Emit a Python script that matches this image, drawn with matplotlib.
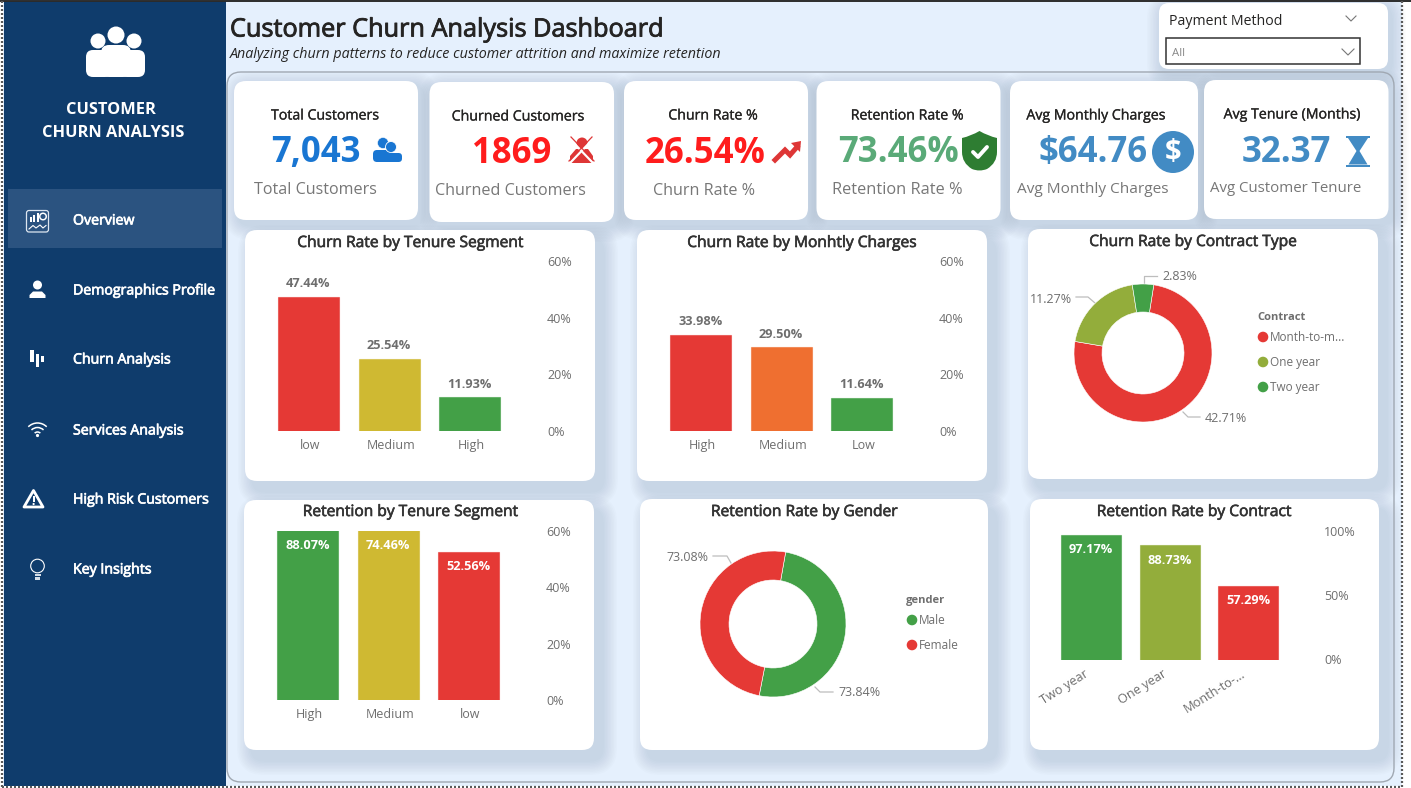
import numpy as np
import matplotlib
matplotlib.use("Agg")
from matplotlib import pyplot as plt
from matplotlib import patheffects as pe
from matplotlib.transforms import ScaledTranslation
from matplotlib.patches import FancyBboxPatch, Circle, Rectangle, Polygon, PathPatch, Arc, Wedge
from matplotlib.path import Path

plt.rcParams['font.family'] = ['Open Sans', 'DejaVu Sans']

W, H = 1411, 788

# data
nav_items = ["Overview", "Demographics Profile", "Churn Analysis", "Services Analysis", "High Risk Customers", "Key Insights"]

kpi_titles = ["Total Customers", "Churned Customers", "Churn Rate %", "Retention Rate %", "Avg Monthly Charges", "Avg Tenure (Months)"]
kpi_values = ["7,043", "1869", "26.54%", "73.46%", "$64.76", "32.37"]
kpi_subs = ["Total Customers", "Churned Customers", "Churn Rate %", "Retention Rate %", "Avg Monthly Charges", "Avg Customer Tenure"]

tenure_cats = ["low", "Medium", "High"]
tenure_churn = [47.44, 25.54, 11.93]

charge_cats = ["High", "Medium", "Low"]
charge_churn = [33.98, 29.50, 11.64]

contract_cats = ["Month-to-m...", "One year", "Two year"]
contract_churn = [42.71, 11.27, 2.83]

ret_tenure_cats = ["High", "Medium", "low"]
ret_tenure = [88.07, 74.46, 52.56]

gender_cats = ["Male", "Female"]
gender_ret = [73.84, 73.08]

ret_contract_cats = ["Two year", "One year", "Month-to-..."]
ret_contract = [97.17, 88.73, 57.29]

# colours
NAVY = "#0F3C6C"
BG = "#E5F0FD"
RED = "#E53935"
YEL = "#CFB932"
GRN = "#43A047"
ORG = "#EF6F30"
OLV = "#93AD3B"
BLUE = "#428BC4"
GREY = "#6E6E6E"
DARK = "#252423"

fig = plt.figure(figsize=(W / 100, H / 100), dpi=100, facecolor="white")
bg = fig.add_axes([0, 0, 1, 1])
bg.set_xlim(0, W)
bg.set_ylim(H, 0)
bg.axis("off")


def rrect(x0, y0, x1, y1, r, **kw):
    p = FancyBboxPatch((x0, y0), x1 - x0, y1 - y0, boxstyle="round,pad=0,rounding_size=%s" % r, **kw)
    bg.add_patch(p)
    return p


def card(x0, y0, x1, y1, r=12, dx=6, dy=8):
    # soft shadow built from stacked translucent boxes
    for i in range(10, 0, -1):
        g = i * 1.5
        rrect(x0 + dx - g, y0 + dy - g, x1 + dx + g, y1 + dy + g, r + g, fc="#66788F", ec="none", alpha=0.021, zorder=1)
    rrect(x0, y0, x1, y1, r, fc="white", ec="none", zorder=2)


def txt(x, y, s, size, color=DARK, ha="left", va="center", weight="normal", stroke=0, **kw):
    t = bg.text(x, y + 2, s, fontsize=size, color=color, ha=ha, va=va, fontweight=weight, zorder=6, **kw)
    if stroke:
        # fake a semibold weight, the regular face is closer in width
        t.set_path_effects([pe.withStroke(linewidth=stroke, foreground=color)])
    return t


def px_axes(x0, y0, x1, y1):
    ax = fig.add_axes([x0 / W, 1 - y1 / H, (x1 - x0) / W, (y1 - y0) / H])
    ax.patch.set_alpha(0)
    ax.set_zorder(5)
    return ax


def bar_chart(cats, vals, cols, ymax, ticks, first, step, top, base, right, inside=False, rot=0, bw=61):
    left = first - 40
    ax = px_axes(left, top, right, base)
    xs = np.arange(len(cats))
    ax.bar(xs, vals, width=bw / step, color=cols, edgecolor=[c + "99" for c in cols], linewidth=0.8)
    ax.set_xlim((left - first) / step, (right - first) / step)
    ax.set_ylim(0, ymax)
    for s in ax.spines.values():
        s.set_visible(False)
    ax.yaxis.tick_right()
    ax.set_yticks(ticks)
    ax.set_yticklabels(["%d%%" % t for t in ticks], fontsize=9, color=GREY)
    ax.tick_params(axis="y", length=0, pad=0)
    ax.set_xticks(xs)
    if rot:
        ax.set_xticklabels(cats, fontsize=9.2, color=GREY, rotation=rot, ha="right", rotation_mode="anchor")
        shift = -7
    else:
        ax.set_xticklabels(cats, fontsize=9, color=GREY)
        shift = 2
    ax.tick_params(axis="x", length=0, pad=5.6)
    for lab in ax.get_xticklabels():
        lab.set_transform(lab.get_transform() + ScaledTranslation(shift / 100, 0, fig.dpi_scale_trans))
    for x, v in zip(xs, vals):
        y = min(v, ymax)
        if inside:
            ax.annotate("%.2f%%" % v, (x, y), xytext=(0, -10.5), textcoords="offset points", ha="center", va="center",
                        fontsize=9.2, color="white", fontweight="bold", annotation_clip=False)
        else:
            ax.annotate("%.2f%%" % v, (x, y), xytext=(0, 9.5), textcoords="offset points", ha="center", va="center",
                        fontsize=9.2, color=GREY, fontweight="bold", annotation_clip=False)
    return ax


def donut(vals, cols, cx, cy, r_out, r_in, start):
    ax = px_axes(cx - r_out, cy - r_out, cx + r_out, cy + r_out)
    ax.pie(vals, colors=cols, startangle=start, counterclock=False, radius=1,
           wedgeprops=dict(width=1 - r_in / r_out, edgecolor="white", linewidth=0.4))
    ax.set_xlim(-1, 1)
    ax.set_ylim(-1, 1)
    return ax


def leader(pts):
    xs, ys = zip(*pts)
    bg.plot(xs, ys, color="#BDBDBD", lw=0.9, zorder=6)


def legend(title, tx, ty, cats, cols, cx, ys, lx):
    txt(tx, ty, title, 8, color=GREY, weight="bold")
    for c, col, y in zip(cats, cols, ys):
        bg.add_patch(Circle((cx, y), 5.3, fc=col, ec="none", zorder=6))
        txt(lx, y - 1.5, c, 8.5, color=GREY)


# page
bg.add_patch(Rectangle((3, 1), 1399, 785, fc=BG, ec="none", zorder=0))
bg.add_patch(Rectangle((4, 1), 222, 785, fc=NAVY, ec="none", zorder=1))
bg.plot([0, W], [0.5, 0.5], color="#2B2B2B", lw=1.4, zorder=9)
for xs, ys in [([2, 2], [1, 787]), ([1402, 1402], [1, 787]), ([2, 1402], [786.5, 786.5])]:
    bg.plot(xs, ys, color="#5A5A5A", lw=1.6, ls=(0, (0.9, 0.9)), zorder=9)

# sidebar
bg.add_patch(Rectangle((8, 189), 214, 59, fc="#2B5380", ec="none", zorder=2))
for c, r in [((98, 41), 7.5), ((134, 41), 7.5), ((116, 35), 8.5)]:
    bg.add_patch(Circle(c, r, fc="white", ec="none", zorder=3))
rrect(86, 50, 112, 77, 7, fc="white", ec="none", zorder=3)
rrect(120, 50, 145, 77, 7, fc="white", ec="none", zorder=3)
rrect(101, 45, 131, 77, 8, fc="white", ec="none", zorder=3)
txt(111, 108, "CUSTOMER", 11.8, color="white", ha="center", weight="bold")
txt(113, 131, "CHURN ANALYSIS", 11.8, color="white", ha="center", weight="bold")

nav_ys = [220, 290, 359, 430, 499, 569]
for name, y in zip(nav_items, nav_ys):
    txt(73, y - 1, name, 10.2, color="white", stroke=0.5)

# nav icons
rrect(26.5, 210.5, 48.5, 232, 2.5, fc="none", ec="#DDE6F0", lw=0.9, zorder=3)
for x, h in [(29.5, 5), (33, 7), (36.5, 9)]:
    bg.add_patch(Rectangle((x, 221.5 - h), 2.4, h, fc="white", ec="none", zorder=3))
bg.add_patch(Wedge((43, 216.5), 4, 0, 360, width=1.5, fc="white", ec="none", zorder=3))
bg.plot([29, 33, 36, 40, 43, 46], [229, 225.5, 228, 225, 228, 225.5], color="white", lw=0.8, zorder=3)
bg.add_patch(Circle((37.5, 285), 4.5, fc="white", ec="none", zorder=3))
bg.add_patch(Polygon([(29.5, 298), (29.5, 295), (33, 291.5), (42, 291.5), (45.5, 295), (45.5, 298)], fc="white", ec="none", zorder=3))
for x, y0, y1 in [(32, 350, 362), (37.5, 354, 367), (42.5, 356, 362)]:
    bg.add_patch(Rectangle((x - 1.6, y0), 3.2, y1 - y0, fc="white", ec="none", zorder=3))
for d in [4, 8.5, 13]:
    bg.add_patch(Arc((37.5, 436), d * 2, d * 2, theta1=225, theta2=315, ec="white", lw=1.1, zorder=3))
bg.add_patch(Circle((37.5, 435.5), 1.6, fc="white", ec="none", zorder=3))
bg.add_patch(Polygon([(33.5, 490.5), (43, 507), (24, 507)], closed=True, fc="none", ec="white", lw=2, joinstyle="round", zorder=3))
bg.add_patch(Rectangle((32.7, 495.5), 1.8, 6.5, fc="white", ec="none", zorder=3))
bg.add_patch(Circle((33.6, 504), 1.1, fc="white", ec="none", zorder=3))
bg.add_patch(Circle((37.5, 566), 6.8, fc="none", ec="white", lw=0.8, zorder=3))
bg.add_patch(Rectangle((34.5, 574), 6, 2, fc="#D5DEE8", ec="none", zorder=3))
bg.add_patch(Rectangle((35, 577), 5, 2.5, fc="#D5DEE8", ec="none", zorder=3))

# header
txt(230, 28, "Customer Churn Analysis Dashboard", 18.2, stroke=0.6)
txt(230, 52, "Analyzing churn patterns to reduce customer attrition and maximize retention", 10.25, style="italic")

# main panel outline
rrect(227, 72, 1394, 782, 14, fc="none", ec="#A0A8B2", lw=1, zorder=1.5)

# slicer
card(1159, 3, 1388, 69, r=10, dx=3, dy=5)
txt(1169, 19, "Payment Method", 10.2)
bg.plot([1346, 1351, 1356], [16, 21, 16], color="#777777", lw=0.8, zorder=6)
bg.add_patch(Rectangle((1165.5, 37.5), 194, 26, fc="white", ec="#333333", lw=1.1, zorder=5))
txt(1172, 51, "All", 8.2, color="#888888")
bg.plot([1342, 1348, 1354], [49, 55, 49], color="#777777", lw=0.8, zorder=6)

# KPI cards
kpi_boxes = [(234, 81, 418, 220), (429.5, 82, 614, 222), (624, 81, 808, 220),
             (816.5, 81, 1000.5, 220), (1010, 81, 1198, 220), (1204, 80, 1388.5, 219)]
kpi_cols = ["#1976D2", "#FF1C1C", "#FF1C1C", "#5AAA78", BLUE, BLUE]
title_pos = [(325, 114), (518, 115), (713, 114), (907, 114), (1096, 114), (1292, 113)]
value_pos = [(271, 151), (472, 152), (645, 152), (838, 151), (1039, 151), (1242, 151)]
sub_pos = [(254, 188), (435, 189), (653, 189), (832, 188), (1017, 187), (1210, 186)]
sub_sizes = [11.6, 11.6, 11.6, 11.8, 11.1, 10.8]
for box, t, v, s, c, tp, vp, sp, ss in zip(kpi_boxes, kpi_titles, kpi_values, kpi_subs, kpi_cols, title_pos, value_pos, sub_pos, sub_sizes):
    card(*box, r=12, dx=5, dy=5)
    txt(tp[0], tp[1], t, 10.2, ha="center", stroke=0.2)
    txt(vp[0], vp[1], v, 25, color=c, weight="bold")
    txt(sp[0], sp[1], s, ss, color="#777777")

# KPI icons
b = "#1976D2"
bg.add_patch(Circle((383, 143), 5.5, fc=b, ec="white", lw=0.4, zorder=6))
rrect(373, 150, 392, 162, 4, fc=b, ec="none", zorder=6)
bg.add_patch(Circle((391, 147), 5.5, fc=b, ec="white", lw=0.6, zorder=6))
rrect(380, 153, 402, 162, 3.5, fc=b, ec="none", zorder=6)

r = "#DE3636"
bg.add_patch(Circle((582, 143), 5.5, fc=r, ec="none", zorder=6))
bg.add_patch(Polygon([(570, 163), (570, 156), (576, 149), (588, 149), (593, 156), (593, 163)], fc=r, ec="none", zorder=6))
bg.plot([570, 593], [139, 163], color="white", lw=1.6, zorder=7)
bg.plot([593, 570], [139, 163], color="white", lw=1.6, zorder=7)
bg.plot([571, 594], [137, 161], color=r, lw=0.9, zorder=7)
bg.plot([592, 569], [137, 161], color=r, lw=0.9, zorder=7)

bg.plot([775, 785, 790, 797], [160, 150, 155, 147], color=r, lw=3.6, solid_joinstyle="miter", zorder=6)
bg.add_patch(Polygon([(791, 143), (801, 141), (800, 152)], fc=r, ec="none", zorder=6))

sh = Path([(979.5, 131), (988, 136), (997, 138), (997, 152), (997, 163), (987, 169), (979.5, 172),
           (972, 169), (962, 163), (962, 152), (962, 138), (971, 136), (979.5, 131)],
          [Path.MOVETO, Path.CURVE3, Path.CURVE3, Path.LINETO, Path.CURVE3, Path.CURVE3, Path.CURVE3,
           Path.CURVE3, Path.CURVE3, Path.CURVE3, Path.LINETO, Path.CURVE3, Path.CURVE3])
bg.add_patch(PathPatch(sh, fc="#2E7D32", ec="none", zorder=6))
bg.plot([973, 978, 987], [152, 157, 147], color="white", lw=2.8, solid_capstyle="round", zorder=7)

bg.add_patch(Circle((1173, 152), 21, fc=BLUE, ec="none", zorder=6))
txt(1173, 150, "$", 21, color="white", ha="center", weight="bold")

bg.add_patch(Rectangle((1346, 135.5), 24, 2.5, fc=BLUE, ec="none", zorder=6))
bg.add_patch(Rectangle((1346, 164.5), 24, 2.5, fc=BLUE, ec="none", zorder=6))
bg.add_patch(Polygon([(1348, 138), (1368, 138), (1359.5, 151), (1367.5, 164.5), (1348.5, 164.5), (1356.5, 151)], fc=BLUE, ec="none", zorder=6))

# chart cards
chart_boxes = [(245, 230, 595, 481), (637, 230, 987, 481), (1028, 229, 1378, 479),
               (244, 500, 594, 750), (640, 499, 988, 750), (1030, 499, 1379, 750)]
chart_titles = ["Churn Rate by Tenure Segment", "Churn Rate by Monhtly Charges", "Churn Rate by Contract Type",
                "Retention by Tenure Segment", "Retention Rate by Gender", "Retention Rate by Contract"]
chart_title_pos = [(410, 241), (802, 241), (1193, 240), (410, 510), (804, 510), (1194, 510)]
for box, t, tp in zip(chart_boxes, chart_titles, chart_title_pos):
    card(*box, r=12, dx=8, dy=10)
    txt(tp[0], tp[1], t, 11.2, ha="center", color="#333333", stroke=0.45)

ticks60 = [0, 20, 40, 60]
bar_chart(tenure_cats, tenure_churn, [RED, YEL, GRN], 60, ticks60, 308.5, 80.5, 261, 431, 547)
bar_chart(charge_cats, charge_churn, [RED, ORG, GRN], 60, ticks60, 700.5, 80.5, 261, 431, 939)
bar_chart(ret_tenure_cats, ret_tenure, [GRN, YEL, RED], 60, ticks60, 307.5, 80.5, 531, 700, 546, inside=True)
bar_chart(ret_contract_cats, ret_contract, [GRN, OLV, RED], 100, [0, 50, 100], 1091, 78.5, 531, 659.5, 1324, inside=True, rot=32, bw=60)

donut(contract_churn, [RED, OLV, GRN], 1143, 353, 69, 41, 81)
leader([(1144, 283), (1144, 276), (1157, 276)])
leader([(1076, 297), (1088, 297), (1095, 303)])
leader([(1183, 412), (1188, 417), (1200, 417)])
txt(1162, 274.5, "%.2f%%" % contract_churn[2], 9, color=GREY)
txt(1072, 297.5, "%.2f%%" % contract_churn[1], 9, color=GREY, ha="right")
txt(1205, 416.5, "%.2f%%" % contract_churn[0], 9, color=GREY)
legend("Contract", 1257, 315.5, contract_cats, [RED, OLV, GRN], 1263, [337, 362, 387], 1270)

donut(gender_ret, [GRN, RED], 773, 624, 73, 44, 80)
leader([(713, 556), (727, 556), (731, 563)])
leader([(815, 687), (820, 692), (833, 692)])
txt(708, 555.5, "%.2f%%" % gender_ret[1], 9, color=GREY, ha="right")
txt(838, 690.5, "%.2f%%" % gender_ret[0], 9, color=GREY)
legend("gender", 906, 598.5, gender_cats, [GRN, RED], 912, [620, 645], 919)

fig.savefig("out.png", dpi=100)
